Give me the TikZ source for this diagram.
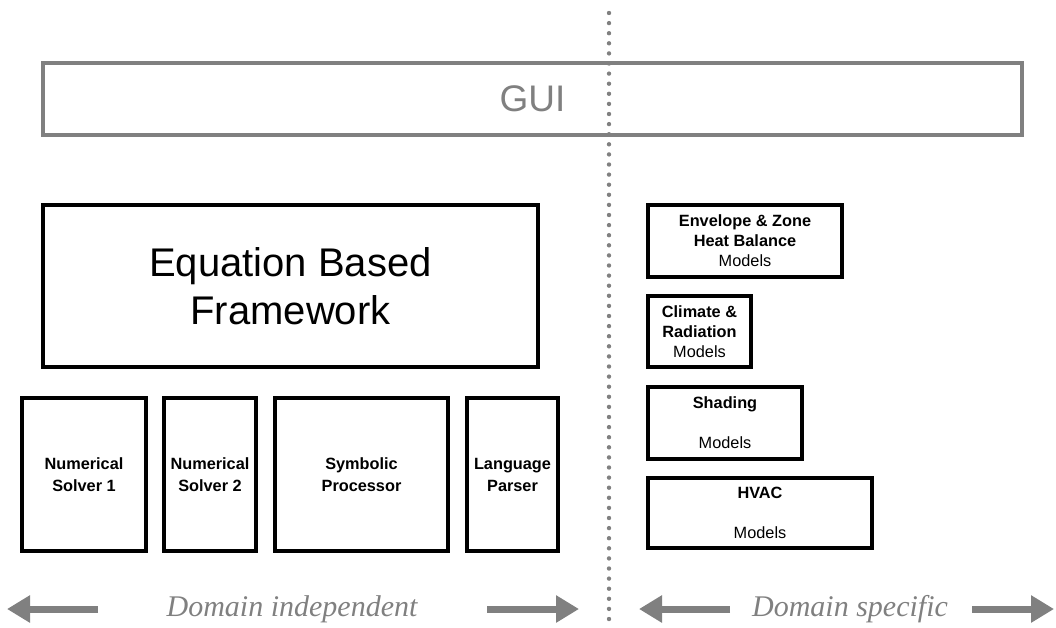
\documentclass[tikz,border=0pt]{standalone}
\usepackage{fontspec}
\setmainfont{Liberation Sans}
\newfontfamily\serifit{Liberation Serif}
\usetikzlibrary{arrows.meta}
\definecolor{midgray}{HTML}{808080}
\begin{document}
\begin{tikzpicture}[x=1pt,y=-1pt,
  box/.style={draw=black, line width=3.5pt, inner sep=0pt, outer sep=0pt, align=center,
    font=\bfseries\fontsize{16.3}{22}\selectfont},
  rbox/.style={draw=black, line width=3.5pt, inner sep=0pt, outer sep=0pt, align=center,
    font=\fontsize{16.3}{20}\selectfont},
  bigarrow/.style={draw=midgray, line width=7pt, -{Triangle[length=23pt,width=26pt]}},
  domtext/.style={text=midgray, font=\serifit\itshape\fontsize{30}{36}\selectfont, anchor=base}
]
\useasboundingbox (0,0) rectangle (1056,627);

% divider
\coordinate (dtop) at (609,13);
\coordinate (dbot) at (609,621);
\draw[midgray, line width=4.4pt, line cap=round, dash pattern=on 0pt off 10.1pt] (dtop) -- (dbot);

% GUI
\node[draw=midgray, line width=3.5pt, minimum width=979pt, minimum height=72pt, inner sep=0pt,
  text=midgray, font=\fontsize{37}{44}\selectfont] (gui) at (532.5,99) {GUI};

% Equation based framework
\node[rbox, minimum width=495pt, minimum height=162pt, font=\fontsize{40}{48}\selectfont]
  (ebf) at (290.5,286) {Equation Based\\Framework};

% bottom-left boxes
\node[box, minimum width=124pt, minimum height=153pt] (ns1) at (84,474.5) {Numerical\\Solver 1};
\node[box, minimum width=92pt, minimum height=153pt] (ns2) at (210,474.5) {Numerical\\Solver 2};
\node[box, minimum width=173pt, minimum height=153pt] (sym) at (361.5,474.5) {Symbolic\\Processor};
\node[box, minimum width=91pt, minimum height=153pt] (lang) at (512.5,474.5) {Language\\Parser};

% right boxes
\node[rbox, minimum width=194pt, minimum height=72pt] (env) at (745,241)
  {\textbf{Envelope \& Zone}\\\textbf{Heat Balance}\\Models};
\node[rbox, minimum width=103pt, minimum height=71pt] (clim) at (699.5,331.5)
  {\textbf{Climate \&}\\\textbf{Radiation}\\Models};
\node[rbox, minimum width=154pt, minimum height=72pt] (shad) at (725,423)
  {\textbf{Shading}\\[20pt]Models};
\node[rbox, minimum width=224pt, minimum height=70pt] (hvac) at (760,513)
  {\textbf{HVAC}\\[20pt]Models};

% domain labels
\node[domtext] (dind) at (292,616) {Domain independent};
\node[domtext] (dspec) at (850,616) {Domain specific};

\coordinate (a1s) at (98,609);  \coordinate (a1t) at (7,609);
\coordinate (a2s) at (487,609); \coordinate (a2t) at (579,609);
\coordinate (a3s) at (730,609); \coordinate (a3t) at (639,609);
\coordinate (a4s) at (972,609); \coordinate (a4t) at (1054,609);
\draw[bigarrow] (a1s) -- (a1t);
\draw[bigarrow] (a2s) -- (a2t);
\draw[bigarrow] (a3s) -- (a3t);
\draw[bigarrow] (a4s) -- (a4t);
\end{tikzpicture}
\end{document}
